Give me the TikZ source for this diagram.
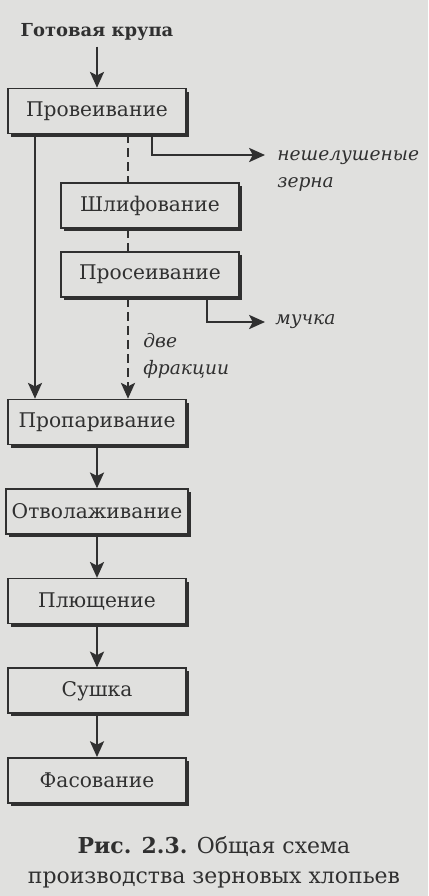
\documentclass[tikz,border=0pt]{standalone}
\usepackage{fontspec}
\setmainfont{DejaVu Serif}
\usepackage{tikz}
\usetikzlibrary{arrows.meta, positioning, calc, shadows}
\definecolor{pagegray}{RGB}{224,224,222}
\definecolor{ink}{RGB}{48,48,48}

\begin{document}
\begin{tikzpicture}[
  >=Stealth,
  node distance=0.86cm,
  stepbox/.style={draw=ink, line width=0.9pt, fill=pagegray, text=ink,
    minimum width=3.56cm, minimum height=0.9cm, align=center, font=\fontsize{11.5}{14}\selectfont,
    drop shadow={shadow xshift=0.06cm, shadow yshift=-0.06cm, fill=ink, opacity=1}},
  note/.style={text=ink, font=\fontsize{10.6}{15.5}\selectfont\itshape, align=left, inner sep=0pt},
  arr/.style={->, line width=1.3pt, draw=ink, >={Stealth[length=9pt, width=8pt, inset=2pt]}},
  dashline/.style={line width=1.5pt, draw=ink, dash pattern=on 5pt off 3pt},
]
\useasboundingbox[fill=pagegray] (0,0) rectangle (8.56,-17.92);

\node[font=\fontsize{10.2}{12}\selectfont\bfseries, text=ink] (input) at (1.94,-0.64) {Готовая крупа};
\node[stepbox] (winnow) at (1.94,-2.22) {Провеивание};
\node[stepbox] (grind) at (3.0,-4.11) {Шлифование};
\node[stepbox] (sift) at (3.0,-5.49) {Просеивание};
\node[stepbox] (steam) at (1.94,-8.44) {Пропаривание};
\node[stepbox, below=of steam] (temper) {Отволаживание};
\node[stepbox, below=of temper] (flatten) {Плющение};
\node[stepbox, below=of flatten] (dry) {Сушка};
\node[stepbox, below=of dry] (pack) {Фасование};

\draw[arr] (input) -- (winnow);
\draw[arr] (steam) -- (temper);
\draw[arr] (temper) -- (flatten);
\draw[arr] (flatten) -- (dry);
\draw[arr] (dry) -- (pack);

% Bypass on the left
\coordinate (bypass) at (0.70,0);
\draw[arr] (winnow.south -| bypass) -- (steam.north -| bypass);

% Dashed way through grinding and sifting
\coordinate (dashx) at (2.56,0);
\draw[dashline] (winnow.south -| dashx) -- (grind.north -| dashx);
\draw[dashline] (grind.south -| dashx) -- (sift.north -| dashx);
\draw[dashline, arr] (sift.south -| dashx) -- (steam.north -| dashx);
\node[note, anchor=north west] (parts) at (2.86,-6.66) {две\\фракции};

% Waste outputs
\coordinate (huskx) at (3.04,0);
\coordinate (huskend) at (5.30,-3.10);
\draw[arr] (winnow.south -| huskx) |- (huskend);
\node[note, anchor=north west] (husk) at (5.54,-3.0) {нешелушеные\\зерна};

\coordinate (flourx) at (4.14,0);
\coordinate (flourend) at (5.30,-6.44);
\draw[arr] (sift.south -| flourx) |- (flourend);
\node[note, anchor=west] (flour) at (5.50,-6.44) {мучка};

% Caption
\node[font=\fontsize{12.5}{17}\selectfont, text=ink, align=center] (caption) at (4.28,-17.24)
  {\textbf{Рис. 2.3.} Общая схема\\производства зерновых хлопьев};

\end{tikzpicture}
\end{document}
